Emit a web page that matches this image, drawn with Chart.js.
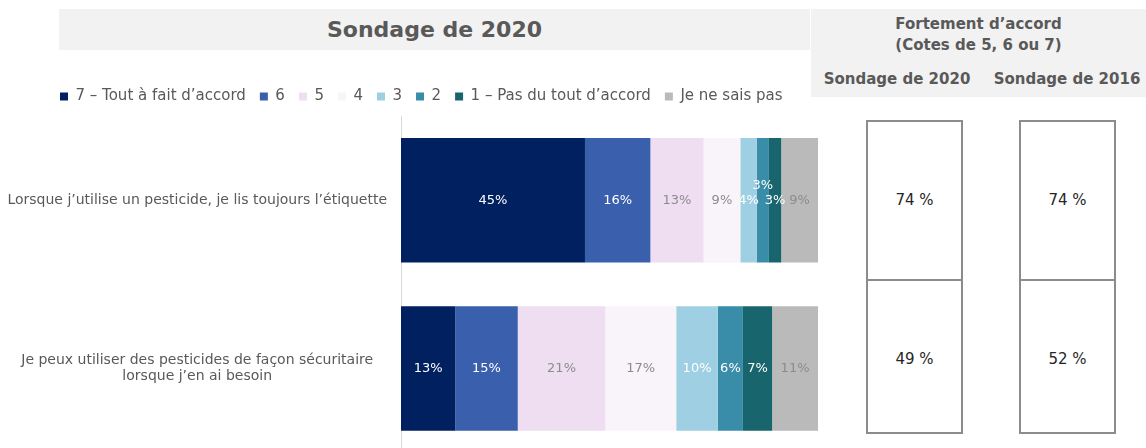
<!DOCTYPE html>
<html><head><meta charset="utf-8">
<script src="https://cdn.jsdelivr.net/npm/chart.js@4.4.1/dist/chart.umd.min.js"></script>
<style>
html,body{margin:0;padding:0;}
body{width:1146px;height:448px;overflow:hidden;position:relative;background:#fff;font-family:"DejaVu Sans",sans-serif;}
#c{position:absolute;left:0;top:0;}
.band{position:absolute;background:#f2f2f2;}
.t{position:absolute;color:#595959;font-weight:bold;text-align:center;white-space:nowrap;}
.box{position:absolute;border:2px solid #8c8c8c;box-sizing:border-box;}
.cell{position:absolute;left:0;right:0;display:flex;align-items:center;justify-content:center;font-size:15px;color:#262626;}
</style></head><body>
<div class="band" style="left:59px;top:9px;width:751px;height:41px;"></div>
<div class="t" style="left:59px;top:9px;width:751px;line-height:41px;font-size:22px;">Sondage de 2020</div>
<div class="band" style="left:811px;top:9px;width:335px;height:88px;"></div>
<div class="t" style="left:811px;top:14px;width:335px;line-height:21px;font-size:15px;">Fortement d’accord<br>(Cotes de 5, 6 ou 7)</div>
<div class="t" style="left:822px;top:69px;width:150px;line-height:20px;font-size:15px;">Sondage de 2020</div>
<div class="t" style="left:992px;top:69px;width:150px;line-height:20px;font-size:15px;">Sondage de 2016</div>
<div id="tables"></div>
<canvas id="c" width="840" height="475"></canvas>
<script>
// ---- data ----
const categories = [
  'Lorsque j’utilise un pesticide, je lis toujours l’étiquette',
  ['Je peux utiliser des pesticides de façon sécuritaire', 'lorsque j’en ai besoin']
];
const seriesNames = ['7 – Tout à fait d’accord', '6', '5', '4', '3', '2', '1 – Pas du tout d’accord', 'Je ne sais pas'];
const rating7 = [45, 13];
const rating6 = [16, 15];
const rating5 = [13, 21];
const rating4 = [9, 17];
const rating3 = [4, 10];
const rating2 = [3, 6];
const rating1 = [3, 7];
const dontKnow = [9, 11];
const agree2020 = [74, 49];
const agree2016 = [74, 52];

const seriesValues = [rating7, rating6, rating5, rating4, rating3, rating2, rating1, dontKnow];
const seriesColors = ['#002060', '#3A5FAD', '#EFDDF2', '#F9F3FA', '#9ECFE2', '#3A8DA8', '#18656E', '#BABABA'];
const labelColors = ['#ffffff', '#ffffff', '#8c8c8c', '#8c8c8c', '#ffffff', '#ffffff', '#ffffff', '#8c8c8c'];
const FONT = '"DejaVu Sans"';

// row totals so that each bar fills the full width (as in the source)
const rowTotals = categories.map((_, i) => seriesValues.reduce((s, a) => s + a[i], 0));

// ---- right-hand summary tables ----
function buildTable(vals, left) {
  const box = document.createElement('div');
  box.className = 'box';
  box.style.cssText = `left:${left}px;top:120px;width:97px;height:314px;`;
  vals.forEach((v, i) => {
    const c = document.createElement('div');
    c.className = 'cell';
    c.style.top = (i * 157) + 'px';
    c.style.height = '156px';
    if (i > 0) c.style.borderTop = '2px solid #8c8c8c';
    c.textContent = v + ' %';
    box.appendChild(c);
  });
  document.getElementById('tables').appendChild(box);
}
buildTable(agree2020, 866);
buildTable(agree2016, 1019);

// ---- plugins ----
const legendFit = {
  id: 'legendFit',
  beforeUpdate(chart) {
    const lg = chart.legend;
    if (lg && !lg._patched) {
      const orig = lg.fit;
      lg.fit = function () { orig.call(this); this.height = 41; };
      lg._patched = true;
    }
  },
  afterLayout(chart) {
    if (chart.legend) chart.legend.left = 46;
  }
};
const barLabels = {
  id: 'barLabels',
  afterDatasetsDraw(chart) {
    const ctx = chart.ctx;
    ctx.save();
    ctx.font = '13px ' + FONT;
    ctx.textAlign = 'center';
    ctx.textBaseline = 'middle';
    const lastRight = {};
    chart.data.datasets.forEach((ds, di) => {
      const meta = chart.getDatasetMeta(di);
      meta.data.forEach((bar, i) => {
        const txt = ds.rawValues[i] + '%';
        const x = (bar.x + bar.base) / 2;
        let y = bar.y;
        const w = ctx.measureText(txt).width;
        const lr = lastRight[i] === undefined ? -1e9 : lastRight[i];
        if (x - w / 2 < lr - 1) {
          y -= 15;
        } else {
          lastRight[i] = x + w / 2;
        }
        ctx.fillStyle = ds.labelColor;
        ctx.fillText(txt, x, y);
      });
    });
    ctx.restore();
  }
};

const datasets = seriesNames.map((name, k) => ({
  label: name,
  data: seriesValues[k].map((v, i) => v / rowTotals[i] * 100),
  rawValues: seriesValues[k],
  backgroundColor: seriesColors[k],
  labelColor: labelColors[k],
  borderWidth: 0,
  barPercentage: 0.74,
  categoryPercentage: 1
}));

Chart.defaults.font.family = FONT;
new Chart(document.getElementById('c'), {
  type: 'bar',
  data: { labels: categories, datasets },
  options: {
    indexAxis: 'y',
    responsive: false,
    animation: false,
    layout: { padding: { left: 0, right: 22, top: 75, bottom: 0 } },
    plugins: {
      legend: {
        position: 'top',
        align: 'start',
        labels: { boxWidth: 8, boxHeight: 8, padding: 14, color: '#595959', font: { size: 15 } }
      },
      tooltip: { enabled: false }
    },
    scales: {
      x: { stacked: true, min: 0, max: 100, display: false },
      y: {
        stacked: true,
        grid: { display: false, drawTicks: false },
        border: { display: true, color: '#d9d9d9', width: 1 },
        ticks: { color: '#595959', font: { size: 14 }, padding: 14, crossAlign: 'center' },
        afterFit(scale) { scale.width = 401; }
      }
    }
  },
  plugins: [legendFit, barLabels]
});
</script>
</body></html>
